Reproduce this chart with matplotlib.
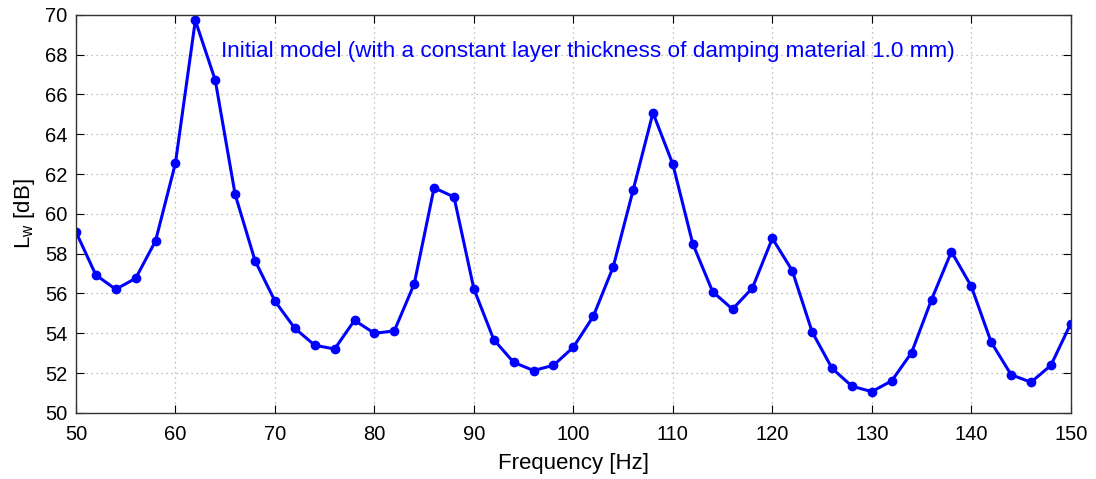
import matplotlib
matplotlib.use("Agg")
import matplotlib.pyplot as plt
import numpy as np

freq = list(range(50, 151, 2))
lw = [59.09, 56.93, 56.21, 56.76, 58.64, 62.55, 69.72, 66.72, 60.98, 57.65,
      55.62, 54.25, 53.40, 53.21, 54.65, 54.00, 54.12, 56.48, 61.31, 60.85,
      56.23, 53.68, 52.54, 52.13, 52.39, 53.30, 54.85, 57.33, 61.18, 65.08,
      62.49, 58.50, 56.09, 55.21, 56.28, 58.77, 57.15, 54.07, 52.24, 51.34,
      51.07, 51.61, 53.03, 55.69, 58.10, 56.36, 53.55, 51.92, 51.54, 52.39,
      54.49]
xticks = list(range(50, 151, 10))
yticks = list(range(50, 71, 2))
annotation = "Initial model (with a constant layer thickness of damping material 1.0 mm)"

plt.rcParams['font.family'] = ['Liberation Sans', 'DejaVu Sans']

fig = plt.figure(figsize=(10.96, 4.79), dpi=100)
ax = fig.add_axes([0.0693, 0.138, 0.9077, 0.831])
ax.plot(freq, lw, color='#0000ff', linewidth=2.2, marker='o', markersize=6)
ax.set_xlim(50, 150)
ax.set_ylim(50, 70)
ax.set_xticks(xticks)
ax.set_yticks(yticks)
ax.tick_params(direction='in', top=True, right=True, labelsize=14.5, length=6)
ax.tick_params(axis='x', pad=9)
ax.tick_params(axis='y', pad=6)
ax.grid(True, linestyle=(0, (1, 3)), color='#aaaaaa', linewidth=0.9)
for s in ax.spines.values():
    s.set_color('#333333')
    s.set_linewidth(1.0)
ax.set_xlabel('Frequency [Hz]', fontsize=16, labelpad=6)
ax.set_ylabel('L$_\\mathregular{w}$ [dB]', fontsize=16, labelpad=6)
ax.text(64.6, 68.15, annotation, color='#0000ff', fontsize=16.2, va='center', ha='left')
fig.savefig('out.png', dpi=100)
